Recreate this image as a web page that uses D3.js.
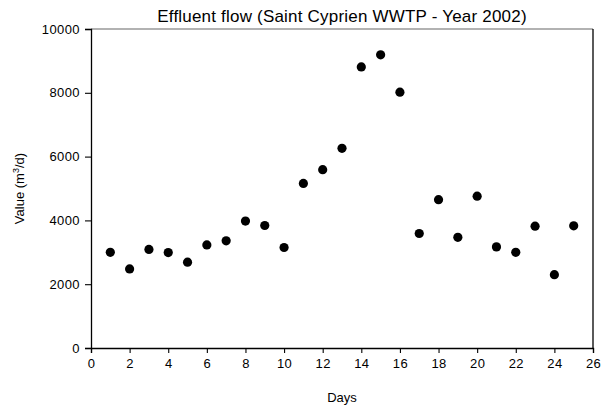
<!DOCTYPE html>
<html>
<head>
<meta charset="utf-8">
<script src="https://cdn.jsdelivr.net/npm/d3@7"></script>
<style>
  body { margin: 0; background: #fff; }
  text { font-family: Arial, "Liberation Sans", sans-serif; fill: #000; }
</style>
</head>
<body>
<div id="chart"></div>
<script>
// data
var days = [1, 2, 3, 4, 5, 6, 7, 8, 9, 10, 11, 12, 13, 14, 15, 16, 17, 18, 19, 20, 21, 22, 23, 24, 25];
var flow = [3000, 2480, 3090, 2990, 2690, 3230, 3360, 3980, 3840, 3150, 5160, 5590, 6260,
            8810, 9190, 8020, 3590, 4650, 3470, 4760, 3170, 3000, 3820, 2300, 3830];
var xTicks = [0, 2, 4, 6, 8, 10, 12, 14, 16, 18, 20, 22, 24, 26];
var yTicks = [0, 2000, 4000, 6000, 8000, 10000];

var margin = { top: 29, right: 17, bottom: 62, left: 91 };
var width = 610 - margin.left - margin.right,
    height = 410 - margin.top - margin.bottom;

var svg = d3.select("#chart").append("svg")
  .attr("width", 610)
  .attr("height", 410);

var g = svg.append("g")
  .attr("transform", "translate(" + margin.left + "," + margin.top + ")");

var x = d3.scaleLinear().domain([0, 26]).range([0, width]);
var y = d3.scaleLinear().domain([0, 10000]).range([height, 0]);

// frame: top and right
g.append("line")
  .attr("x1", 0).attr("x2", width).attr("y1", 0).attr("y2", 0)
  .attr("stroke", "#999").attr("stroke-width", 1.3);
g.append("line")
  .attr("x1", width).attr("x2", width).attr("y1", 0).attr("y2", height)
  .attr("stroke", "#000").attr("stroke-width", 1.3);

var xAxis = d3.axisBottom(x).tickValues(xTicks).tickSize(5).tickPadding(6).tickFormat(d3.format("d"));
var yAxis = d3.axisLeft(y).tickValues(yTicks).tickSize(6).tickPadding(5).tickFormat(d3.format("d"));

var gx = g.append("g")
  .attr("class", "x-axis")
  .attr("transform", "translate(0," + height + ")")
  .call(xAxis);

var gy = g.append("g")
  .attr("class", "y-axis")
  .call(yAxis);

[gx, gy].forEach(function (a) {
  a.select(".domain").attr("stroke", "#000").attr("stroke-width", 1.3);
  a.selectAll(".tick line").attr("stroke", "#000").attr("stroke-width", 1.1);
  a.selectAll(".tick text")
    .style("font-family", "Arial, 'Liberation Sans', sans-serif")
    .style("font-size", "13px")
    .style("letter-spacing", "0.4px");
});

// points
g.selectAll("circle.dot")
  .data(days)
  .enter().append("circle")
  .attr("class", "dot")
  .attr("cx", function (d) { return x(d); })
  .attr("cy", function (d, i) { return y(flow[i]); })
  .attr("r", 4.6)
  .attr("fill", "#000");

// title
svg.append("text")
  .attr("x", margin.left + width / 2)
  .attr("y", 22)
  .attr("text-anchor", "middle")
  .style("font-size", "17px")
  .style("letter-spacing", "0.2px")
  .text("Effluent flow (Saint Cyprien WWTP - Year 2002)");

// x label
svg.append("text")
  .attr("x", margin.left + width / 2)
  .attr("y", 402)
  .attr("text-anchor", "middle")
  .style("font-size", "13px")
  .text("Days");

// y label with superscript
var yl = svg.append("text")
  .attr("transform", "translate(24," + (margin.top + height / 2) + ") rotate(-90)")
  .attr("text-anchor", "middle")
  .style("font-size", "13px");
yl.append("tspan").text("Value (m");
yl.append("tspan").attr("dy", -5).style("font-size", "9px").text("3");
yl.append("tspan").attr("dy", 5).text("/d)");
</script>
</body>
</html>
